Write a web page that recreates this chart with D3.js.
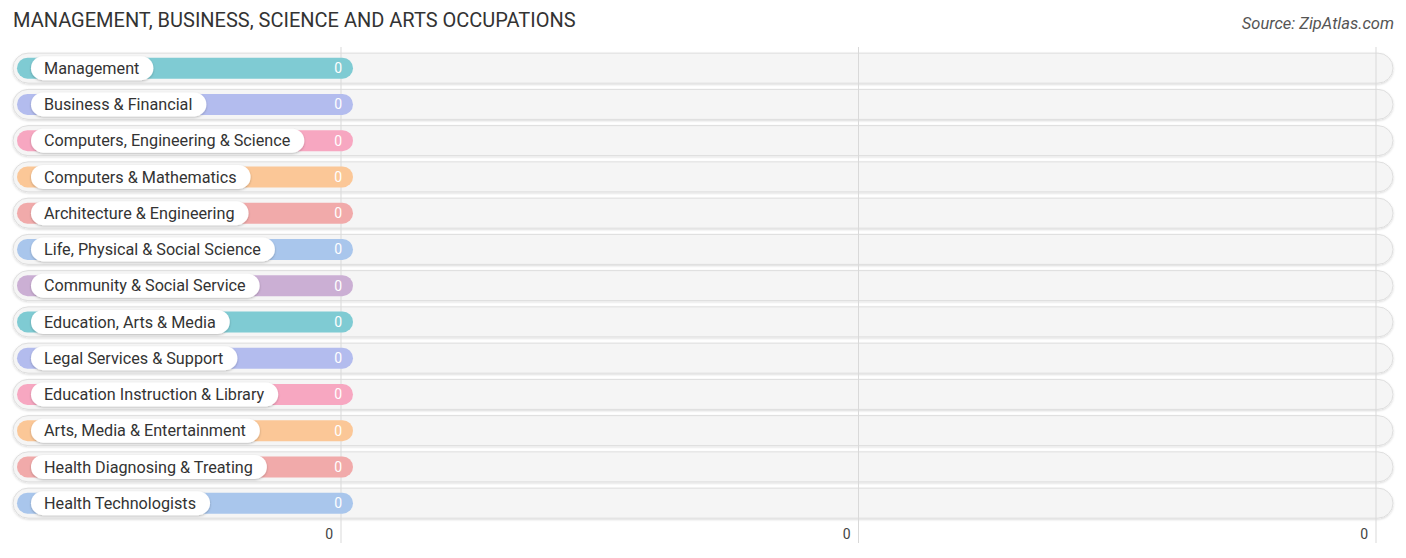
<!DOCTYPE html>
<html><head><meta charset="utf-8">
<script src="https://cdn.jsdelivr.net/npm/d3@7"></script>
<style>body{margin:0;background:#fff;}text{font-family:Roboto,"Open Sans",sans-serif;}</style>
</head><body>
<svg id="chart" width="1406" height="558"></svg>
<script>
const categories = ["Management","Business & Financial","Computers, Engineering & Science","Computers & Mathematics","Architecture & Engineering","Life, Physical & Social Science","Community & Social Service","Education, Arts & Media","Legal Services & Support","Education Instruction & Library","Arts, Media & Entertainment","Health Diagnosing & Treating","Health Technologists"];
const values = [0,0,0,0,0,0,0,0,0,0,0,0,0];
const colors = ["#7fcbd3","#b3bcee","#f7a7c1","#fbc797","#f1aaaa","#a9c6ec","#cbafd4","#7fcbd3","#b3bcee","#f7a7c1","#fbc797","#f1aaaa","#a9c6ec"];
const tickLabels = ["0","0","0"];
const title = "MANAGEMENT, BUSINESS, SCIENCE AND ARTS OCCUPATIONS";
const source = "Source: ZipAtlas.com";

const svg = d3.select("#chart");
const defs = svg.append("defs");
const f = defs.append("filter").attr("id","sh").attr("x","-10%").attr("y","-40%").attr("width","120%").attr("height","180%");
f.append("feDropShadow").attr("dx",0).attr("dy",1).attr("stdDeviation",1.2).attr("flood-color","#000").attr("flood-opacity",0.25);
const f2 = defs.append("filter").attr("id","tsh").attr("x","-5%").attr("y","-30%").attr("width","110%").attr("height","160%");
f2.append("feDropShadow").attr("dx",0).attr("dy",1).attr("stdDeviation",1).attr("flood-color","#000").attr("flood-opacity",0.15);

const y = d3.scaleBand().domain(categories).range([50, 521.25]);
const xTicks = d3.scalePoint().domain(d3.range(tickLabels.length)).range([341, 1376]);
const x = d3.scaleLinear().domain([0, 1]).range([341, 1376]);

svg.append("text").attr("x",13).attr("y",27).attr("font-size",20).attr("fill","#333").text(title);
svg.append("text").attr("x",1394).attr("y",29).attr("text-anchor","end").attr("font-size",16.5).attr("font-style","italic").attr("fill","#555").text(source);

const trackL = 13, trackR = 1393, trackH = 30;
const rows = svg.append("g");
rows.selectAll("rect.track").data(categories).join("rect")
  .attr("x",trackL).attr("y",d=>y(d)+y.bandwidth()/2-trackH/2)
  .attr("width",trackR-trackL).attr("height",trackH).attr("rx",trackH/2)
  .attr("fill","#f5f5f5").attr("stroke","#dedede").attr("stroke-width",1).attr("filter","url(#tsh)");

svg.append("g").selectAll("line").data(tickLabels).join("line")
  .attr("x1",(d,i)=>xTicks(i)).attr("x2",(d,i)=>xTicks(i))
  .attr("y1",47).attr("y2",543).attr("stroke","#d9d9d9").attr("stroke-width",1);

const barH = 21, barL = 17, extra = 12;
const g = svg.append("g");
g.selectAll("rect.bar").data(categories).join("rect")
  .attr("x",barL).attr("y",d=>y(d)+y.bandwidth()/2-barH/2)
  .attr("width",(d,i)=>x(values[i])-barL+extra).attr("height",barH).attr("rx",barH/2)
  .attr("fill",(d,i)=>colors[i]);

const labels = g.selectAll("g.lab").data(categories).join("g")
  .attr("transform",d=>`translate(0,${y(d)+y.bandwidth()/2})`);
const pills = labels.append("rect").attr("filter","url(#sh)").attr("fill","#fff");
const texts = labels.append("text").attr("x",44).attr("dy","0.35em").attr("font-size",16.2).attr("fill","#333").text(d=>d);
texts.each(function(d,i){
  const w = this.getComputedTextLength();
  d3.select(pills.nodes()[i]).attr("x",31).attr("y",-12).attr("height",24).attr("rx",12)
    .attr("width",w+27);
});
g.selectAll("text.val").data(categories).join("text")
  .attr("x",(d,i)=>x(values[i])+1).attr("y",d=>y(d)+y.bandwidth()/2).attr("dy","0.35em")
  .attr("text-anchor","end").attr("font-size",14).attr("fill","#fff").text((d,i)=>values[i]);

svg.append("g").selectAll("text").data(tickLabels).join("text")
  .attr("x",(d,i)=>xTicks(i)-8).attr("y",534).attr("dy","0.35em").attr("text-anchor","end")
  .attr("font-size",14).attr("fill","#444").text(d=>d);
</script>
</body></html>
